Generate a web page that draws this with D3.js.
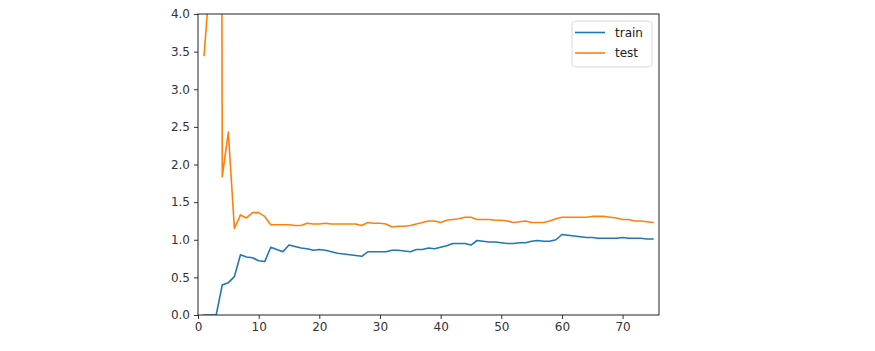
<!DOCTYPE html>
<html>
<head>
<meta charset="utf-8">
<script src="https://cdn.jsdelivr.net/npm/d3@7"></script>
<style>
  body { margin: 0; background: #fff; }
  text { font-family: "DejaVu Sans", sans-serif; }
</style>
</head>
<body>
<div id="chart"></div>
<script>
// epochs 1..75
var epochs = d3.range(1, 76);

var train = [0.0, 0.0, 0.0, 0.40, 0.43, 0.51, 0.80, 0.77, 0.76, 0.72,
  0.71, 0.90, 0.87, 0.84, 0.93, 0.91, 0.89, 0.88, 0.86, 0.87,
  0.86, 0.84, 0.82, 0.81, 0.80, 0.79, 0.78, 0.84, 0.84, 0.84,
  0.84, 0.86, 0.86, 0.85, 0.84, 0.87, 0.87, 0.89, 0.88, 0.90,
  0.92, 0.95, 0.95, 0.95, 0.93, 0.99, 0.98, 0.97, 0.97, 0.96,
  0.95, 0.95, 0.96, 0.96, 0.98, 0.99, 0.98, 0.98, 1.00, 1.07,
  1.06, 1.05, 1.04, 1.03, 1.03, 1.02, 1.02, 1.02, 1.02, 1.03,
  1.02, 1.02, 1.02, 1.01, 1.01];

var test = [3.45, 4.5, 40.0, 1.84, 2.43, 1.15, 1.33, 1.29, 1.36, 1.36,
  1.31, 1.20, 1.20, 1.20, 1.20, 1.19, 1.19, 1.22, 1.21, 1.21,
  1.22, 1.21, 1.21, 1.21, 1.21, 1.21, 1.19, 1.23, 1.22, 1.22,
  1.21, 1.17, 1.18, 1.18, 1.19, 1.21, 1.23, 1.25, 1.25, 1.23,
  1.26, 1.27, 1.28, 1.30, 1.30, 1.27, 1.27, 1.27, 1.26, 1.26,
  1.25, 1.23, 1.24, 1.25, 1.23, 1.23, 1.23, 1.25, 1.28, 1.30,
  1.30, 1.30, 1.30, 1.30, 1.31, 1.31, 1.31, 1.30, 1.29, 1.27,
  1.27, 1.25, 1.25, 1.24, 1.23];

var xTicks = [0, 10, 20, 30, 40, 50, 60, 70];
var yTicks = [0, 0.5, 1, 1.5, 2, 2.5, 3, 3.5, 4];

var series = [
  { name: 'train', values: train, color: '#1f77b4' },
  { name: 'test', values: test, color: '#ff7f0e' }
];

var width = 875, height = 351;
var margin = { left: 198, right: 216, top: 14, bottom: 36 };
var plot_w = width - margin.left - margin.right;
var plot_h = height - margin.top - margin.bottom;

var svg = d3.select('#chart')
  .append('svg')
  .attr('width', width)
  .attr('height', height);

var x = d3.scaleLinear().domain([0, 76]).range([0, plot_w]);
var y = d3.scaleLinear().domain([0, 4]).range([plot_h, 0]);

var g = svg.append('g')
  .attr('transform', 'translate(' + margin.left + ',' + margin.top + ')');

svg.append('defs').append('clipPath')
  .attr('id', 'clip')
  .append('rect')
  .attr('width', plot_w)
  .attr('height', plot_h);

// axes
var xAxis = g.append('g')
  .attr('transform', 'translate(0,' + plot_h + ')')
  .call(d3.axisBottom(x).tickValues(xTicks).tickSize(4).tickPadding(3).tickFormat(d3.format('d')));
var yAxis = g.append('g')
  .call(d3.axisLeft(y).tickValues(yTicks).tickSize(4).tickPadding(4).tickFormat(d3.format('.1f')));

[xAxis, yAxis].forEach(function(a) {
  a.select('.domain').remove();
  a.selectAll('line').attr('stroke', '#333');
  a.selectAll('text').attr('fill', '#333').style('font-size', '12px')
    .style('font-family', '"DejaVu Sans", sans-serif');
});

// lines
var line = d3.line()
  .x(function(d, i) { return x(epochs[i]); })
  .y(function(d) { return y(d); });

g.append('g')
  .attr('clip-path', 'url(#clip)')
  .selectAll('path')
  .data(series)
  .enter()
  .append('path')
  .attr('d', function(s) { return line(s.values); })
  .attr('fill', 'none')
  .attr('stroke', function(s) { return s.color; })
  .attr('stroke-width', 1.6)
  .attr('stroke-linejoin', 'round')
  .attr('stroke-linecap', 'square');

// frame
g.append('rect')
  .attr('width', plot_w)
  .attr('height', plot_h)
  .attr('fill', 'none')
  .attr('stroke', '#222')
  .attr('stroke-width', 1);

// legend
var legend = g.append('g')
  .attr('transform', 'translate(' + (plot_w - 87) + ',7)');
legend.append('rect')
  .attr('width', 80)
  .attr('height', 46)
  .attr('rx', 3)
  .attr('fill', '#fff')
  .attr('stroke', '#d8d8d8');
var items = legend.selectAll('.item')
  .data(series)
  .enter()
  .append('g')
  .attr('transform', function(d, i) { return 'translate(0,' + (11.5 + i * 20.5) + ')'; });
items.append('line')
  .attr('x1', 3).attr('x2', 33)
  .attr('stroke', function(d) { return d.color; })
  .attr('stroke-width', 1.6);
items.append('text')
  .attr('x', 43)
  .attr('y', 4)
  .attr('fill', '#222')
  .style('font-size', '12px')
  .text(function(d) { return d.name; });
</script>
</body>
</html>
